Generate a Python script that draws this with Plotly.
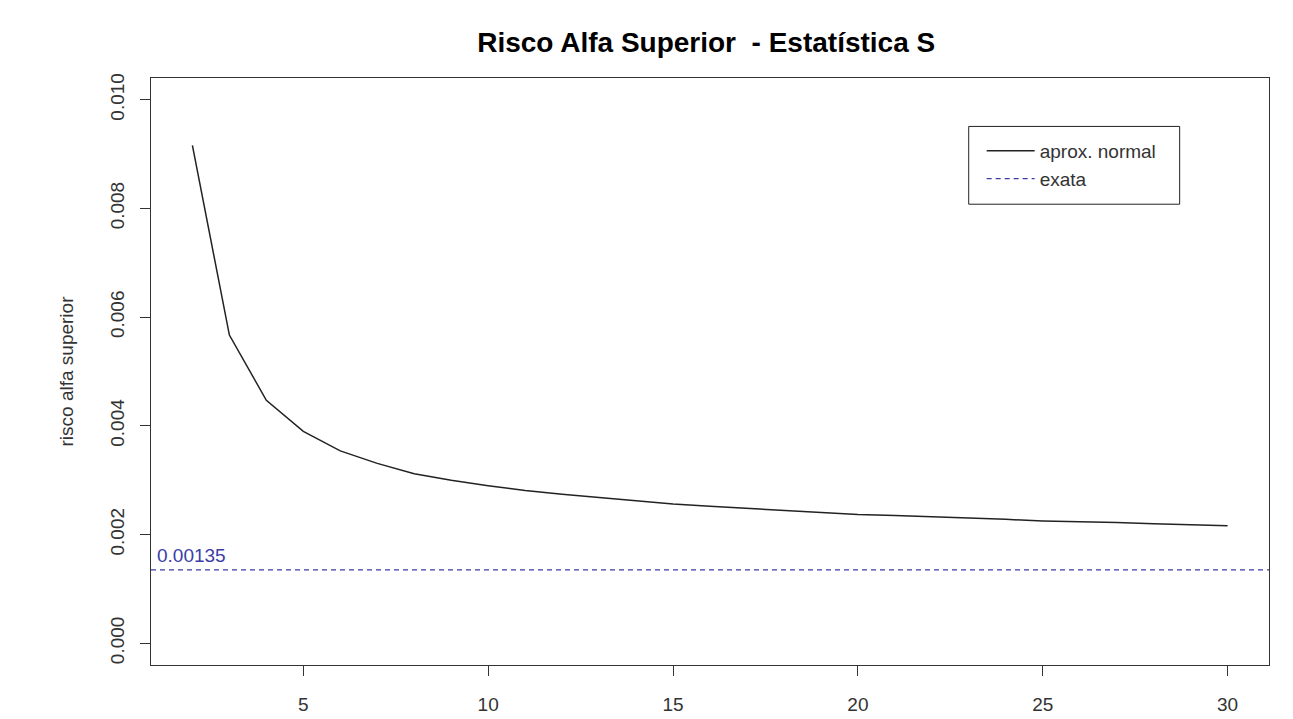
import plotly.graph_objects as go

# Data
n_values = list(range(2, 31))
risk_normal = [0.00916, 0.00567, 0.00447, 0.00390, 0.00354, 0.00331, 0.00312, 0.00300,
               0.00290, 0.00281, 0.00274, 0.00268, 0.00262, 0.00256, 0.00252, 0.00248,
               0.00244, 0.00240, 0.00237, 0.00235, 0.00233, 0.00230, 0.00228, 0.00225,
               0.00224, 0.00222, 0.00220, 0.00218, 0.00216]
exact_value = 0.00135
exact_label = "0.00135"
x_ticks = [5, 10, 15, 20, 25, 30]
y_ticks = [0.000, 0.002, 0.004, 0.006, 0.008, 0.010]
y_ticktext = ["0.000", "0.002", "0.004", "0.006", "0.008", "0.010"]
series_names = ["aprox. normal", "exata"]
title_text = "Risco Alfa Superior  - Estatística S"
y_title = "risco alfa superior"

FONT = "Arial, 'Liberation Sans', sans-serif"
TXT = "#333333"
BLUE = "#3c3ca8"

fig = go.Figure()
fig.add_trace(go.Scatter(x=n_values, y=risk_normal, mode="lines", name=series_names[0],
                         line=dict(color="#222222", width=1.5)))
# legend-only entry for the horizontal reference line
fig.add_trace(go.Scatter(x=[None], y=[None], mode="lines", name=series_names[1],
                         line=dict(color=BLUE, width=1.3, dash="5px,4px")))

fig.add_shape(type="line", xref="paper", x0=0, x1=1, yref="y", y0=exact_value, y1=exact_value,
              line=dict(color=BLUE, width=1.3, dash="5px,4px"))
fig.add_annotation(xref="paper", x=0.004, yref="y", y=exact_value, yshift=14,
                   text=exact_label, showarrow=False, xanchor="left", yanchor="middle",
                   font=dict(family=FONT, size=19, color=BLUE))

# legend box
fig.add_shape(type="rect", xref="paper", yref="paper", x0=0.7314, x1=0.9201, y0=0.7850, y1=0.9175,
              line=dict(color="#222222", width=1), fillcolor="rgba(0,0,0,0)")

x_lo, x_hi = 2 - 0.04 * 28, 30 + 0.04 * 28
y_lo, y_hi = 0 - 0.04 * 0.010, 0.010 + 0.04 * 0.010

fig.update_layout(
    width=1293, height=719,
    margin=dict(l=143, r=32, t=70, b=55),
    paper_bgcolor="white", plot_bgcolor="white",
    font=dict(family=FONT, size=19, color=TXT),
    title=dict(text="<b>" + title_text + "</b>", x=0.540, xanchor="center", y=0.953, yanchor="middle",
               font=dict(family=FONT, size=28, color="#000000")),
    showlegend=True,
    legend=dict(x=0.743, xanchor="left", y=0.908, yanchor="top", bgcolor="rgba(0,0,0,0)",
                borderwidth=0, font=dict(family=FONT, size=19, color=TXT), itemwidth=48,
                tracegroupgap=0),
    xaxis=dict(range=[x_lo, x_hi], tickmode="array", tickvals=x_ticks, ticks="outside", ticklen=10,
               tickcolor="#333333", showline=True, mirror=True, linecolor="#333333", linewidth=1,
               showgrid=False, zeroline=False, tickfont=dict(size=19, color=TXT),
               ticklabelstandoff=12),
    yaxis=dict(range=[y_lo, y_hi], tickmode="array", tickvals=y_ticks, ticktext=y_ticktext,
               ticks="outside", ticklen=10, tickcolor="#333333", tickangle=-90,
               showline=True, mirror=True, linecolor="#333333", linewidth=1,
               showgrid=False, zeroline=False, tickfont=dict(size=19, color=TXT),
               ticklabelstandoff=8,
               title=dict(text=y_title, font=dict(size=19, color=TXT), standoff=28)),
)

fig.write_html("out.html")
